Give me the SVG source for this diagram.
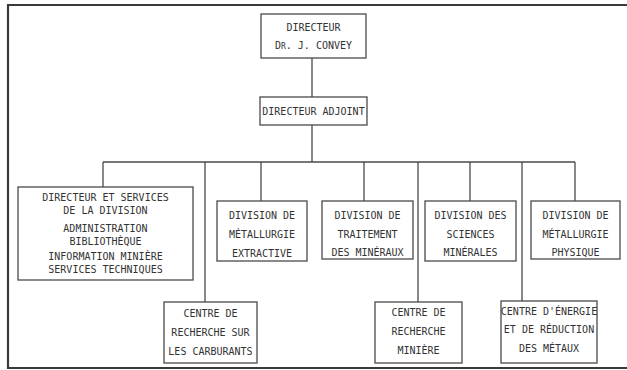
<svg xmlns="http://www.w3.org/2000/svg" width="627" height="370" viewBox="0 0 627 370">
  <style>
    .frame { stroke: #3a3a3a; stroke-width: 2.2; fill: none; }
    .box { fill: #ffffff; stroke: #4a4a4a; stroke-width: 1.3; }
    .wire { stroke: #4a4a4a; stroke-width: 1.3; fill: none; }
    text { font-family: "DejaVu Sans Mono", "Liberation Mono", monospace; font-size: 10px; fill: #333333; text-anchor: middle; }
  </style>
  <rect width="627" height="370" fill="#ffffff"/>

  <!-- page frame (open on the right) -->
  <path class="frame" d="M627 5 H8 V368 H627"/>

  <!-- connectors -->
  <g id="connectors">
    <line class="wire" x1="312" y1="58" x2="312" y2="97"/>
    <line class="wire" x1="312" y1="125" x2="312" y2="162"/>
    <line class="wire" x1="103" y1="162" x2="575" y2="162"/>
    <line class="wire" x1="103" y1="162" x2="103" y2="187"/>
    <line class="wire" x1="205" y1="162" x2="205" y2="302"/>
    <line class="wire" x1="261" y1="162" x2="261" y2="201"/>
    <line class="wire" x1="364" y1="162" x2="364" y2="201"/>
    <line class="wire" x1="418" y1="162" x2="418" y2="302"/>
    <line class="wire" x1="470" y1="162" x2="470" y2="201"/>
    <line class="wire" x1="522" y1="162" x2="522" y2="301"/>
    <line class="wire" x1="575" y1="162" x2="575" y2="201"/>
  </g>

  <g id="directeur">
    <rect class="box" x="261" y="14" width="105" height="44"/>
    <text x="313.5" y="31">DIRECTEUR</text>
    <text x="313.5" y="49">D<tspan font-size="8">R</tspan>. J. CONVEY</text>
  </g>

  <g id="directeur-adjoint">
    <rect class="box" x="260" y="97" width="107" height="28"/>
    <text x="313.5" y="115">DIRECTEUR ADJOINT</text>
  </g>

  <g id="services-division">
    <rect class="box" x="18" y="187" width="175" height="93"/>
    <text x="105.5" y="201">DIRECTEUR ET SERVICES</text>
    <text x="105.5" y="214">DE LA DIVISION</text>
    <text x="105.5" y="232">ADMINISTRATION</text>
    <text x="105.5" y="245">BIBLIOTHÈQUE</text>
    <text x="105.5" y="260">INFORMATION MINIÈRE</text>
    <text x="105.5" y="273">SERVICES TECHNIQUES</text>
  </g>

  <g id="metallurgie-extractive">
    <rect class="box" x="217" y="201" width="90" height="60"/>
    <text x="262" y="219">DIVISION DE</text>
    <text x="262" y="238">MÉTALLURGIE</text>
    <text x="262" y="257">EXTRACTIVE</text>
  </g>

  <g id="traitement-mineraux">
    <rect class="box" x="322" y="201" width="91" height="58"/>
    <text x="367.5" y="219">DIVISION DE</text>
    <text x="367.5" y="238">TRAITEMENT</text>
    <text x="367.5" y="256">DES MINÉRAUX</text>
  </g>

  <g id="sciences-minerales">
    <rect class="box" x="425" y="201" width="91" height="60"/>
    <text x="470.5" y="219">DIVISION DES</text>
    <text x="470.5" y="238">SCIENCES</text>
    <text x="470.5" y="256">MINÉRALES</text>
  </g>

  <g id="metallurgie-physique">
    <rect class="box" x="531" y="201" width="89" height="58"/>
    <text x="575.5" y="219">DIVISION DE</text>
    <text x="575.5" y="238">MÉTALLURGIE</text>
    <text x="575.5" y="256">PHYSIQUE</text>
  </g>

  <g id="centre-carburants">
    <rect class="box" x="164" y="302" width="93" height="61"/>
    <text x="210.5" y="317">CENTRE DE</text>
    <text x="210.5" y="336">RECHERCHE SUR</text>
    <text x="210.5" y="355">LES CARBURANTS</text>
  </g>

  <g id="centre-recherche-miniere">
    <rect class="box" x="375" y="302" width="87" height="61"/>
    <text x="418.5" y="316">CENTRE DE</text>
    <text x="418.5" y="335">RECHERCHE</text>
    <text x="418.5" y="354">MINIÈRE</text>
  </g>

  <g id="centre-energie">
    <rect class="box" x="501" y="301" width="96" height="62"/>
    <text x="549" y="315">CENTRE D'ÉNERGIE</text>
    <text x="549" y="333">ET DE RÉDUCTION</text>
    <text x="549" y="352">DES MÉTAUX</text>
  </g>
</svg>
